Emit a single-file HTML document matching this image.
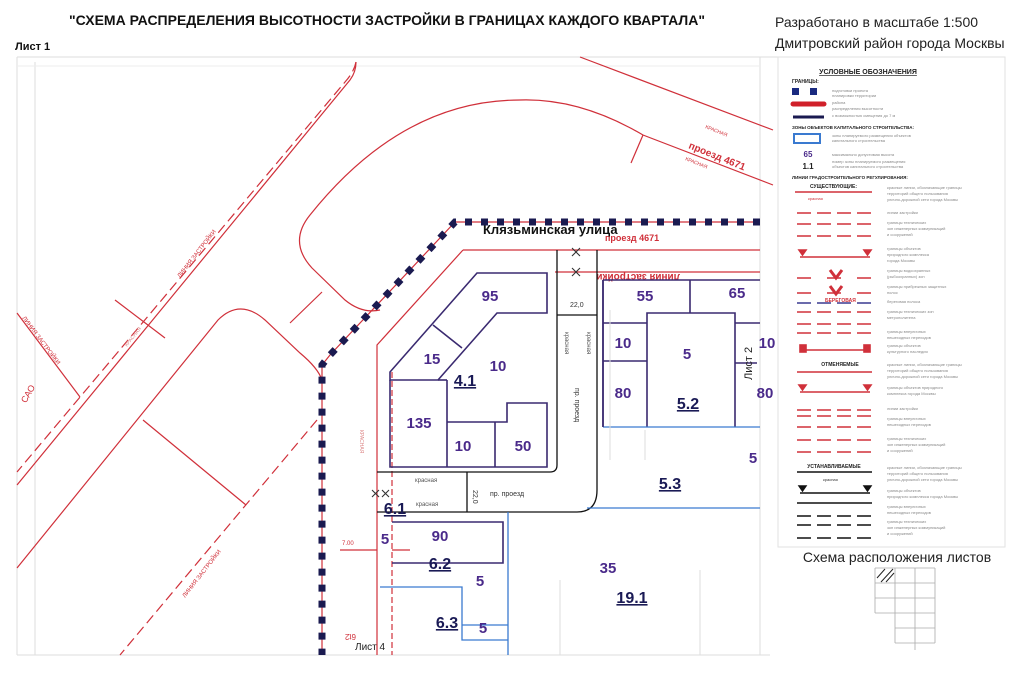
<!DOCTYPE html>
<html><head><meta charset="utf-8"><style>
html,body{margin:0;padding:0;background:#fff;}
svg{display:block;font-family:"Liberation Sans",sans-serif;}
.n{fill:#4a2a8a;font-size:15px;font-weight:bold;text-anchor:middle;}
.z{fill:#1a1a55;font-size:16px;font-weight:bold;text-anchor:middle;text-decoration:underline;}
.t{fill:#888;font-size:4px;}
.r{stroke:#d0303a;fill:none;stroke-width:1.2;}
.p{stroke:#3a2a70;fill:none;stroke-width:1.6;}
.k{stroke:#111;fill:none;stroke-width:1.3;}
.b{stroke:#3a7ad0;fill:none;stroke-width:1.3;}
.g{stroke:#ddd;fill:none;stroke-width:1;}
.rs{fill:#d0303a;font-size:6px;}
</style></head><body>
<svg width="1034" height="680" viewBox="0 0 1034 680" xmlns="http://www.w3.org/2000/svg">
<rect width="1034" height="680" fill="#fff"/>
<text x="387" y="25" font-size="14" font-weight="bold" text-anchor="middle" fill="#111">"СХЕМА РАСПРЕДЕЛЕНИЯ ВЫСОТНОСТИ ЗАСТРОЙКИ В ГРАНИЦАХ КАЖДОГО КВАРТАЛА"</text>
<text x="775" y="27" font-size="14" fill="#222">Разработано в масштабе 1:500</text>
<text x="775" y="48" font-size="14" fill="#222">Дмитровский район города Москвы</text>
<text x="15" y="50" font-size="11" font-weight="bold" fill="#111">Лист 1</text>
<line x1="17" y1="57" x2="1005" y2="57" class="g"/>
<line x1="17" y1="57" x2="17" y2="655" class="g"/>
<line x1="35" y1="62" x2="35" y2="655" class="g"/>
<line x1="17" y1="655" x2="770" y2="655" class="g"/>
<line x1="760" y1="57" x2="760" y2="655" class="g"/>
<line x1="17" y1="66" x2="760" y2="66" stroke="#eee"/>
<path class="r" d="M356 62 Q356 72 350 80 L17 485"/>
<path class="r" d="M356 62 Q354 72 345 82 L17 472" stroke-dasharray="10 5"/>
<path class="r" d="M17 313 L80 397"/>
<text class="rs" transform="translate(22 318) rotate(53)">ЛИНИЯ ЗАСТРОЙКИ</text>
<text x="18" y="400" font-size="9" fill="#d0303a" transform="rotate(-60 25 395)">САО</text>
<text class="rs" font-size="7" transform="translate(180 278) rotate(-52)">ЛИНИЯ ЗАСТРОЙКИ</text>
<path class="r" d="M17 568 L218 320 Q240 298 265 320 L300 353 Q318 368 322 380"/>
<path class="r" d="M520 100 C440 100 370 140 310 215 Q288 242 312 268 L345 300 Q362 314 380 310"/>
<path class="r" d="M520 100 Q580 98 643 135 L773 185"/>
<path class="r" d="M580 57 L773 130"/>
<path class="r" d="M317 420 L120 655" stroke-dasharray="10 5"/>
<text class="rs" font-size="7" transform="translate(185 598) rotate(-52)">ЛИНИЯ ЗАСТРОЙКИ</text>
<path class="r" d="M143 420 L246 505"/>
<path class="r" d="M115 300 L165 338"/>
<path class="r" d="M290 323 L322 292"/>
<path class="r" d="M643 135 L631 163"/>
<text x="688" y="148" font-size="10" font-weight="bold" fill="#d0303a" transform="rotate(22 688 148)">проезд 4671</text>
<text x="705" y="128" font-size="5" fill="#d0303a" transform="rotate(22 705 128)">КРАСНАЯ</text>
<text x="685" y="160" font-size="5" fill="#d0303a" transform="rotate(22 685 160)">КРАСНАЯ</text>
<text x="127" y="347" font-size="5" fill="#d88" transform="rotate(-52 127 347)">КРАСНАЯ</text>
<path class="r" d="M463 250 L760 250"/>
<path class="r" d="M463 250 L377 345 L377 655"/>
<path class="r" d="M392 372 L392 655" stroke-dasharray="6 3"/>
<path class="r" d="M555 272 L760 272" stroke-width="1.6"/>
<path class="r" d="M455 222 L760 222"/>
<path class="r" d="M455 222 L330 355 L322 365 L322 655"/>
<text x="360" y="430" font-size="5" fill="#d88" transform="rotate(90 360 430)">КРАСНАЯ</text>
<text x="620" y="282" font-size="10" fill="#d0303a" font-weight="bold" transform="rotate(180 650 278)">линия застройки</text>
<text x="605" y="241" font-size="9" fill="#d0303a" font-weight="bold">проезд 4671</text>
<text x="483" y="234" font-size="13" font-weight="bold" fill="#111">Клязьминская улица</text>
<path d="M760 222 L455 222 L330 355 L322 365 L322 655" stroke="#1a1a50" stroke-width="7" fill="none" stroke-dasharray="7 9"/>
<g stroke="#333" stroke-width="1.1">
<path d="M572 248 l8 8 M580 248 l-8 8 M572 268 l8 8 M580 268 l-8 8"/>
<path d="M372 490 l7 7 M379 490 l-7 7 M382 490 l7 7 M389 490 l-7 7"/>
</g>
<path class="k" d="M377 472 L550 472 Q557 472 557 465 L557 250"/>
<path class="k" d="M597 250 L597 490 Q597 512 577 512 L377 512"/>
<path class="k" d="M467 472 L467 512 M597 315 L557 315"/>
<text x="570" y="307" font-size="7" fill="#333">22,0</text>
<text x="473" y="490" font-size="7" fill="#333" transform="rotate(90 473 490)">22,0</text>
<text x="575" y="388" font-size="7" fill="#333" transform="rotate(90 575 388)">пр. проезд</text>
<text x="490" y="496" font-size="7" fill="#333">пр. проезд</text>
<text x="415" y="482" font-size="6" fill="#555">красная</text>
<text x="416" y="506" font-size="6" fill="#555">красная</text>
<text x="565" y="332" font-size="6" fill="#555" transform="rotate(90 565 332)">красная</text>
<text x="587" y="332" font-size="6" fill="#555" transform="rotate(90 587 332)">красная</text>
<path class="p" d="M390 380 L390 372 L477 273 L547 273 L547 313 L497 313 L438 380 Z"/>
<path class="p" d="M390 380 L390 467 L547 467 L547 403 L507 403 L507 422 L447 422 L447 380 M447 422 L447 467 M495 422 L495 467 M433 325 L462 348"/>
<path class="p" d="M447 380 L438 380"/>
<text class="n" x="490" y="301">95</text>
<text class="n" x="432" y="364">15</text>
<text class="n" x="498" y="371">10</text>
<text class="z" x="465" y="386">4.1</text>
<text class="n" x="419" y="428">135</text>
<text class="n" x="463" y="451">10</text>
<text class="n" x="523" y="451">50</text>
<path class="p" d="M603 280 L603 427 M603 280 L760 280 M647 427 L647 313 L735 313 L735 427 M690 280 L690 313 M603 323 L647 323 M603 361 L647 361 M735 323 L760 323 M735 363 L757 363"/>
<path class="b" d="M603 427 L760 427 M587 508 L760 508 M508 512 L508 655 M380 587 L462 587 L462 640 L508 640 M462 625 L508 625"/>
<line x1="603" y1="280" x2="603" y2="427" class="p"/>
<text class="n" x="645" y="301">55</text>
<text class="n" x="737" y="298">65</text>
<text class="n" x="623" y="348">10</text>
<text class="n" x="687" y="359">5</text>
<text class="n" x="623" y="398">80</text>
<text class="z" x="688" y="409">5.2</text>
<text class="n" x="767" y="348">10</text>
<text class="n" x="765" y="398">80</text>
<text x="752" y="380" font-size="11" fill="#222" transform="rotate(-90 752 380)">Лист 2</text>
<text class="n" x="753" y="463">5</text>
<text class="z" x="670" y="489">5.3</text>
<text class="z" x="395" y="514">6.1</text>
<path class="p" d="M392 522 L503 522 L503 563 L392 563"/>
<text class="n" x="385" y="544">5</text>
<text class="n" x="440" y="541">90</text>
<text class="z" x="440" y="569">6.2</text>
<text class="n" x="480" y="586">5</text>
<text class="z" x="447" y="628">6.3</text>
<text class="n" x="483" y="633">5</text>
<text class="n" x="608" y="573">35</text>
<text class="z" x="632" y="603">19.1</text>
<path class="r" d="M340 550 L377 550 M392 550 L410 550"/>
<text class="rs" x="342" y="545">7.00</text>
<text x="355" y="650" font-size="10" fill="#222">Лист 4</text>
<text x="348" y="640" font-size="8" fill="#d0303a" transform="rotate(180 352 637)">6t2</text>
<g class="g"><path d="M560 580 L560 655 M700 570 L700 655 M610 310 L610 460 M645 430 L645 460"/></g>
<rect x="778" y="57" width="227" height="490" fill="#fff" stroke="#e2e2e2"/>
<text x="868" y="74" font-size="7" font-weight="bold" text-anchor="middle" fill="#222" text-decoration="underline">УСЛОВНЫЕ ОБОЗНАЧЕНИЯ</text>
<text x="792" y="83" font-size="5" font-weight="bold" fill="#222">ГРАНИЦЫ:</text>
<rect x="792" y="88" width="7" height="7" fill="#1a2a80"/><rect x="810" y="88" width="7" height="7" fill="#1a2a80"/>
<line x1="793" y1="104" x2="824" y2="104" stroke="#d0202a" stroke-width="5" stroke-linecap="round"/>
<line x1="793" y1="117" x2="824" y2="117" stroke="#1a1a50" stroke-width="3"/>
<text x="792" y="129" font-size="4.5" font-weight="bold" fill="#222">ЗОНЫ ОБЪЕКТОВ КАПИТАЛЬНОГО СТРОИТЕЛЬСТВА:</text>
<rect x="794" y="134" width="26" height="9" fill="none" stroke="#3a7ad0" stroke-width="2"/>
<text x="808" y="157" font-size="8" font-weight="bold" fill="#4a2a8a" text-anchor="middle">65</text>
<text x="808" y="169" font-size="8" font-weight="bold" fill="#222" text-anchor="middle">1.1</text>
<text x="792" y="179" font-size="4.5" font-weight="bold" fill="#222">ЛИНИИ ГРАДОСТРОИТЕЛЬНОГО РЕГУЛИРОВАНИЯ:</text>
<text x="810" y="188" font-size="5" font-weight="bold" fill="#222">СУЩЕСТВУЮЩИЕ:</text>
<g class="t">
<text x="832" y="92">подготовки проекта</text><text x="832" y="97">планировки территории</text>
<text x="832" y="104">района</text><text x="832" y="110">распределения высотности</text><text x="832" y="117">с возможностью смещения до 7 м</text>
<text x="832" y="137">зоны планируемого размещения объектов</text><text x="832" y="142">капитального строительства</text>
<text x="832" y="156">максимально допустимая высота</text>
<text x="832" y="163">номер зоны планируемого размещения</text><text x="832" y="168">объектов капитального строительства</text>
</g>
<g stroke="#d0303a" stroke-width="1.6" fill="none">
<line x1="795" y1="192" x2="872" y2="192"/>
<line x1="797" y1="213" x2="872" y2="213" stroke-dasharray="14 6"/>
<line x1="797" y1="224" x2="872" y2="224" stroke-dasharray="14 6"/>
<line x1="797" y1="236" x2="872" y2="236" stroke-dasharray="14 6"/>
<line x1="800" y1="257" x2="870" y2="257"/>
<path d="M799 250 h7 l-3.5 5z M864 250 h7 l-3.5 5z" fill="#d0303a"/>
<line x1="797" y1="278" x2="872" y2="278" stroke-dasharray="14 16"/>
<path d="M830 270 l6 8 l6 -8" stroke-width="3"/>
<line x1="797" y1="293" x2="872" y2="293" stroke-dasharray="14 16"/>
<path d="M830 286 l6 8 l6 -8" stroke-width="3"/>
<line x1="797" y1="303" x2="872" y2="303" stroke="#3a3a90" stroke-dasharray="14 6"/>
<line x1="797" y1="312" x2="872" y2="312" stroke-dasharray="14 6"/>
<line x1="797" y1="324" x2="872" y2="324" stroke-dasharray="14 6"/>
<line x1="797" y1="333" x2="872" y2="333" stroke-dasharray="14 6"/>
<line x1="800" y1="350" x2="870" y2="350"/>
<rect x="800" y="345" width="6" height="7" fill="#d0303a"/><rect x="864" y="345" width="6" height="7" fill="#d0303a"/>
<line x1="797" y1="372" x2="872" y2="372"/>
<line x1="800" y1="392" x2="870" y2="392"/>
<path d="M799 385 h7 l-3.5 5z M864 385 h7 l-3.5 5z" fill="#d0303a"/>
<line x1="797" y1="410" x2="872" y2="410" stroke-dasharray="14 6"/>
<line x1="797" y1="416" x2="872" y2="416" stroke-dasharray="14 6"/>
<line x1="797" y1="427" x2="872" y2="427" stroke-dasharray="14 6"/>
<line x1="797" y1="440" x2="872" y2="440" stroke-dasharray="14 6"/>
<line x1="797" y1="452" x2="872" y2="452" stroke-dasharray="14 6"/>
</g>
<text x="840" y="366" font-size="5" font-weight="bold" fill="#222" text-anchor="middle">ОТМЕНЯЕМЫЕ</text>
<text x="834" y="468" font-size="5" font-weight="bold" fill="#222" text-anchor="middle">УСТАНАВЛИВАЕМЫЕ</text>
<g stroke="#111" stroke-width="1.4" fill="none">
<line x1="797" y1="472" x2="872" y2="472"/>
<line x1="800" y1="493" x2="870" y2="493"/>
<path d="M799 486 h7 l-3.5 5z M864 486 h7 l-3.5 5z" fill="#111"/>
<line x1="797" y1="503" x2="872" y2="503"/>
<line x1="797" y1="516" x2="872" y2="516" stroke-dasharray="14 6"/>
<line x1="797" y1="525" x2="872" y2="525" stroke-dasharray="14 6"/>
<line x1="797" y1="538" x2="872" y2="538" stroke-dasharray="14 6"/>
</g>
<g class="t">
<text x="887" y="189">красные линии, обозначающие границы</text><text x="887" y="195">территорий общего пользования</text><text x="887" y="201">улично-дорожной сети города Москвы</text>
<text x="887" y="214">линии застройки</text>
<text x="887" y="224">границы технических</text><text x="887" y="230">зон инженерных коммуникаций</text><text x="887" y="236">и сооружений</text>
<text x="887" y="250">границы объектов</text><text x="887" y="256">природного комплекса</text><text x="887" y="262">города Москвы</text>
<text x="887" y="272">границы водоохранных</text><text x="887" y="278">(рыбоохранных) зон</text>
<text x="887" y="288">границы прибрежных защитных</text><text x="887" y="294">полос</text>
<text x="887" y="303">береговая полоса</text>
<text x="887" y="313">границы технических зон</text><text x="887" y="319">метрополитена</text>
<text x="887" y="333">границы внеуличных</text><text x="887" y="339">пешеходных переходов</text>
<text x="887" y="347">границы объектов</text><text x="887" y="353">культурного наследия</text>
<text x="887" y="366">красные линии, обозначающие границы</text><text x="887" y="372">территорий общего пользования</text><text x="887" y="378">улично-дорожной сети города Москвы</text>
<text x="887" y="389">границы объектов природного</text><text x="887" y="395">комплекса города Москвы</text>
<text x="887" y="410">линии застройки</text>
<text x="887" y="420">границы внеуличных</text><text x="887" y="426">пешеходных переходов</text>
<text x="887" y="440">границы технических</text><text x="887" y="446">зон инженерных коммуникаций</text><text x="887" y="452">и сооружений</text>
<text x="887" y="469">красные линии, обозначающие границы</text><text x="887" y="475">территорий общего пользования</text><text x="887" y="481">улично-дорожной сети города Москвы</text>
<text x="887" y="492">границы объектов</text><text x="887" y="498">природного комплекса города Москвы</text>
<text x="887" y="508">границы внеуличных</text><text x="887" y="514">пешеходных переходов</text>
<text x="887" y="523">границы технических</text><text x="887" y="529">зон инженерных коммуникаций</text><text x="887" y="535">и сооружений</text>
</g>
<text x="808" y="200" font-size="4" fill="#d0303a">красная</text>
<text x="825" y="302" font-size="5" font-weight="bold" fill="#d0303a">БЕРЕГОВАЯ</text>
<text x="823" y="481" font-size="4" fill="#333">красная</text>
<text x="897" y="562" font-size="14" fill="#222" text-anchor="middle">Схема расположения листов</text>
<g stroke="#aaa" stroke-width="0.8" fill="none">
<path d="M875 568 H935 M875 583 H935 M875 598 H935 M895 613 H935 M895 628 H935 M895 643 H935 M875 568 V613 M895 568 V643 M915 568 V650 M935 568 V643 M875 613 H895"/>
</g>
<g stroke="#222" stroke-width="1"><path d="M877 578 l8 -9 M881 582 l12 -13 M886 582 l8 -9"/></g>
</svg>
</body></html>
